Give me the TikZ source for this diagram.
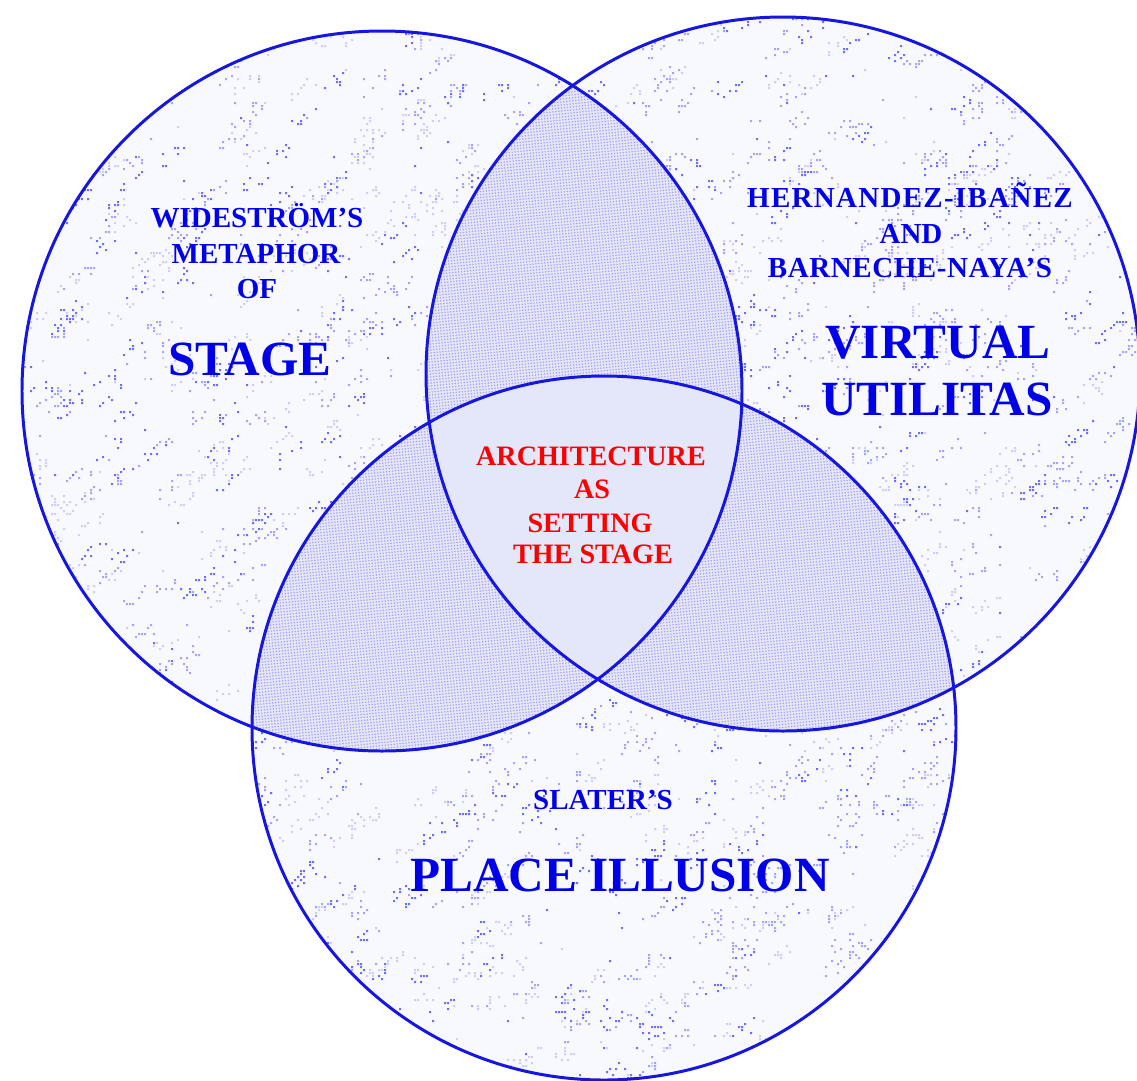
\documentclass[tikz,border=0pt]{standalone}
\usepackage{fontspec}
\setmainfont{Liberation Serif}
\usetikzlibrary{patterns.meta}

\definecolor{rim}{RGB}{22,22,222}
\definecolor{ink}{RGB}{0,0,232}
\definecolor{redink}{RGB}{250,0,0}
\definecolor{outerfill}{RGB}{248,248,255}
\definecolor{lensfill}{RGB}{230,230,250}
\definecolor{lensdot}{RGB}{165,165,245}
\definecolor{corefill}{RGB}{228,230,250}
\definecolor{speck}{RGB}{40,40,235}

\begin{document}
\begin{tikzpicture}[x=0.02cm,y=-0.02cm,
  rimline/.style={draw=rim,line width=1.7pt},
  lens/.style={fill=lensfill,postaction={pattern={Dots[distance=1.7pt,radius=0.5pt,angle=6]},pattern color=lensdot}},
  small/.style={text=ink,font=\bfseries\fontsize{16.5}{20}\selectfont,anchor=base,inner sep=0pt},
  big/.style={text=ink,font=\bfseries\fontsize{28}{32}\selectfont,anchor=base,inner sep=0pt},
  core/.style={text=redink,font=\bfseries\fontsize{16}{19}\selectfont,anchor=base,inner sep=0pt}]

\useasboundingbox (0,0) rectangle (1137,1080);

% circle centres
\coordinate (L) at (382,391);
\coordinate (R) at (783,374);
\coordinate (B) at (604,728);

% speckled ground inside the union of the three discs
\begin{scope}
  \clip (L) circle (360) (R) circle (357) (B) circle (352);
  \fill[outerfill] (0,0) rectangle (1137,1080);
  \pgfmathsetseed{42}
  % three shades of specks: loose blobby clusters plus single dots
  \foreach \shade/\nclus/\nsingle in {20/420/400, 40/440/350, 66/330/250}{
    \fill[speck!\shade!outerfill]
      \foreach \k [evaluate={\k as \cx using 3*random(0,379)},
                   evaluate={\k as \cy using 3*random(0,360)}] in {1,...,\nclus}{
        \foreach \j [evaluate={\j as \ofs using random(-4,4)}] in {1,...,7}{
          ({\cx+3*\ofs},{\cy-3*round(\ofs/2)+3*random(-2,2)}) rectangle ++(2,2)
        }
      }
      \foreach \k in {1,...,\nsingle}{
        ({3*random(0,379)},{3*random(0,360)}) rectangle ++(2,2)
      };
  }
\end{scope}

% pairwise overlaps
\begin{scope}
  \clip (L) circle (360);
  \path[lens] (R) circle (357);
  \path[lens] (B) circle (352);
\end{scope}
\begin{scope}
  \clip (R) circle (357);
  \path[lens] (B) circle (352);
\end{scope}

% triple overlap
\begin{scope}
  \clip (L) circle (360);
  \clip (R) circle (357);
  \fill[corefill] (B) circle (352);
\end{scope}

% outlines
\draw[rimline] (L) circle (360);
\draw[rimline] (R) circle (357);
\draw[rimline] (B) circle (352);

% left label
\node[small] (l1) at (257,227) {WIDESTRÖM’S};
\node[small] (l2) at (256,263) {METAPHOR};
\node[small] (l3) at (257,298) {OF};
\node[big]   (l4) at (250,375) {STAGE};

% right label
\node[small] (r1) at (910,207) {\addfontfeatures{LetterSpace=4.5}HERNANDEZ-IBAÑEZ};
\node[small] (r2) at (911,243) {AND};
\node[small] (r3) at (910,277) {\addfontfeatures{LetterSpace=2}BARNECHE-NAYA’S};
\node[big]   (r4) at (938,358) {VIRTUAL};
\node[big]   (r5) at (937,415) {UTILITAS};

% bottom label
\node[small] (b1) at (603,809) {SLATER’S};
\node[big]   (b2) at (620,891) {PLACE ILLUSION};

% centre label
\node[core] (c1) at (591,465) {ARCHITECTURE};
\node[core] (c2) at (592,498) {AS};
\node[core] (c3) at (590,532) {SETTING};
\node[core] (c4) at (593,563) {THE STAGE};

\end{tikzpicture}
\end{document}
